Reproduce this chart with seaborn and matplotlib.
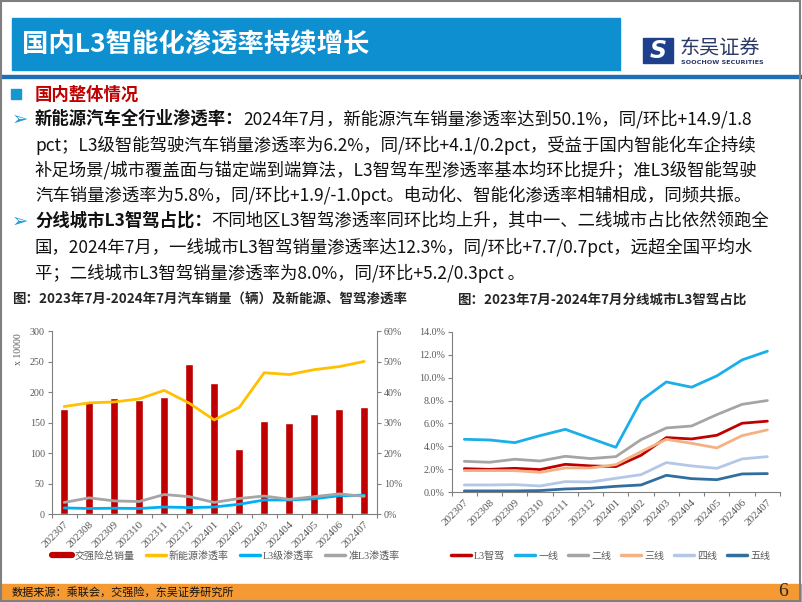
import matplotlib
matplotlib.use("Agg")
import matplotlib.pyplot as plt
from matplotlib.lines import Line2D
from matplotlib.patches import Rectangle
from matplotlib.ticker import FuncFormatter
import numpy as np
import pandas as pd
import seaborn as sns

# ---- data ----
months = ["202307", "202308", "202309", "202310", "202311", "202312", "202401",
          "202402", "202403", "202404", "202405", "202406", "202407"]

# left chart: sales in units of 10,000 vehicles, rates in %
sales = [172, 186, 190, 188, 192, 246, 215, 107, 153, 150, 165, 172, 176]
nev_rate = [35.3, 36.5, 36.8, 37.8, 40.6, 36.4, 30.9, 35.0, 46.4, 45.8, 47.4, 48.4, 50.1]
l3_rate = [2.0, 1.8, 1.9, 1.8, 2.3, 2.1, 2.3, 3.2, 4.6, 4.6, 5.0, 6.0, 6.2]
quasi_l3_rate = [3.8, 5.3, 4.3, 4.1, 6.4, 5.7, 3.8, 5.1, 5.9, 4.8, 5.7, 6.6, 5.8]
left_labels = ["交强险总销量", "新能源渗透率", "L3级渗透率", "准L3渗透率"]

# right chart: L3 share by city tier, in %
city_l3 = [2.06, 2.00, 2.09, 1.98, 2.44, 2.30, 2.24, 3.23, 4.77, 4.65, 4.97, 6.02, 6.20]
tier1 = [4.62, 4.56, 4.33, 4.94, 5.49, 4.70, 3.92, 8.00, 9.62, 9.16, 10.15, 11.54, 12.30]
tier2 = [2.70, 2.62, 2.88, 2.73, 3.14, 2.94, 3.11, 4.59, 5.61, 5.78, 6.77, 7.67, 8.00]
tier3 = [1.89, 1.89, 1.89, 1.74, 2.12, 2.12, 2.41, 3.55, 4.62, 4.27, 3.87, 4.94, 5.44]
tier4 = [0.64, 0.64, 0.67, 0.55, 0.93, 0.90, 1.22, 1.54, 2.59, 2.30, 2.09, 2.91, 3.11]
tier5 = [0.12, 0.12, 0.12, 0.15, 0.29, 0.35, 0.52, 0.64, 1.48, 1.19, 1.10, 1.60, 1.63]
tier_labels = ["L3智驾", "一线", "二线", "三线", "四线", "五线"]
tier_colors = ["#C00000", "#1AAFE8", "#A5A5A5", "#F4B183", "#B4C7E7", "#2F6E9E"]

sns.set_theme(style="ticks")
plt.rcParams["font.family"] = ["Liberation Serif", "Noto Sans CJK SC", "DejaVu Sans"]
SANS = ["Noto Sans CJK SC", "DejaVu Sans"]
GRAY = "#808080"
TXT = "#595959"

W, H = 802, 602
fig = plt.figure(figsize=(W / 100, H / 100), dpi=100)
fig.patch.set_facecolor("white")

# overlay in pixel coordinates for the slide decoration
bg = fig.add_axes([0, 0, 1, 1])
bg.set_xlim(0, W)
bg.set_ylim(H, 0)
bg.axis("off")

# header
bg.add_patch(Rectangle((12, 18), 608, 52, color="#0E8FD0"))
bg.text(22, 45, "国内L3智能化渗透率持续增长", color="white", fontsize=19,
        weight="bold", va="center", family=SANS)
bg.add_patch(Rectangle((0, 74.5), W, 3, color="#1F6FB5"))

# logo
bg.add_patch(Rectangle((643, 38), 30, 25, color="#1E3F8C"))
bg.text(658, 50.5, "S", color="white", fontsize=17, weight="bold", style="italic",
        ha="center", va="center", family=["DejaVu Sans"])
bg.text(680, 48, "东吴证券", color="#2B3A67", fontsize=14.5, va="center", family=SANS)
bg.text(681, 63, "SOOCHOW SECURITIES", color="#2B3A67", fontsize=4.6, weight="bold",
        va="center", family=["DejaVu Sans"])

# body text
BODY = 12.5
bg.add_patch(Rectangle((11, 89), 10, 10, color="#1796CF"))
bg.text(35, 95, "国内整体情况", color="#C00000", fontsize=BODY, weight="bold",
        va="center", family=SANS)


def bullet(y):
    bg.text(12, y, "➢", color="#1E9AD6", fontsize=14, va="center", family=["DejaVu Sans"])


def line(y, bold, rest):
    x = 35
    if bold:
        t = bg.text(x, y, bold, fontsize=BODY, weight="bold", va="center",
                    color="#111111", family=SANS)
        bg.annotate(rest, xy=(1, 0), xycoords=t, va="bottom", ha="left",
                    fontsize=BODY, color="#111111", family=SANS)
    else:
        bg.text(x, y, rest, fontsize=BODY, va="center", color="#111111", family=SANS)


bullet(119)
line(119, "新能源汽车全行业渗透率：", "2024年7月，新能源汽车销量渗透率达到50.1%，同/环比+14.9/1.8")
line(145, None, "pct；L3级智能驾驶汽车销量渗透率为6.2%，同/环比+4.1/0.2pct，受益于国内智能化车企持续")
line(170, None, "补足场景/城市覆盖面与锚定端到端算法，L3智驾车型渗透率基本均环比提升；准L3级智能驾驶")
line(195, None, "汽车销量渗透率为5.8%，同/环比+1.9/-1.0pct。电动化、智能化渗透率相辅相成，同频共振。")
bullet(221)
line(221, "分线城市L3智驾占比：", "不同地区L3智驾渗透率同环比均上升，其中一、二线城市占比依然领跑全")
line(247, None, "国，2024年7月，一线城市L3智驾销量渗透率达12.3%，同/环比+7.7/0.7pct，远超全国平均水")
line(273, None, "平；二线城市L3智驾销量渗透率为8.0%，同/环比+5.2/0.3pct 。")

# chart titles
bg.text(12, 300, "图：2023年7月-2024年7月汽车销量（辆）及新能源、智驾渗透率",
        fontsize=9.7, weight="bold", va="center", family=SANS)
bg.text(457, 300, "图：2023年7月-2024年7月分线城市L3智驾占比",
        fontsize=9.7, weight="bold", va="center", family=SANS)

# footer
bg.add_patch(Rectangle((0, 584), W, 18, color="#F59A32"))
bg.text(12, 592.5, "数据来源：乘联会，交强险，东吴证券研究所", fontsize=8, va="center",
        family=SANS, color="#111111")
bg.text(778, 592, "6", fontsize=14, va="center", family=["Liberation Serif"])
bg.add_patch(Rectangle((0.8, 0.8), W - 2.6, H - 2, fill=False, edgecolor="#7F7F7F", lw=1.5))

x = np.arange(len(months))


def style_xaxis(ax):
    ax.set_xlim(-0.5, len(months) - 0.5)
    ax.set_xticks(x)
    ax.set_xticklabels(months, rotation=45, ha="right", rotation_mode="anchor",
                       fontsize=8, color=TXT)
    ax.set_xticks(np.arange(-0.5, len(months), 1), minor=True)
    ax.tick_params(axis="x", which="major", length=0, pad=4)
    ax.tick_params(axis="x", which="minor", length=3, color=GRAY, width=0.8)
    ax.set_xlabel("")


# ---- left chart ----
ax1 = fig.add_axes([51.7 / W, 1 - 514 / H, 325 / W, 182.7 / H])
df_left = pd.DataFrame({"month": months, "sales": sales})
sns.barplot(data=df_left, x="month", y="sales", color="#C00000", saturation=1,
            width=0.33, ax=ax1)
ax1.set_ylim(0, 300)
ax1.set_yticks(np.arange(0, 301, 50))
ax1.tick_params(axis="y", length=3, color=GRAY, width=0.8, labelsize=7.2,
                labelcolor=TXT, pad=2)
style_xaxis(ax1)
ax1.set_ylabel("x 10000", fontsize=7, color=TXT)
ax1.yaxis.set_label_coords(-0.088, 0.9)
for s in ["top", "right"]:
    ax1.spines[s].set_visible(False)
for s in ["left", "bottom"]:
    ax1.spines[s].set_color(GRAY)
    ax1.spines[s].set_linewidth(0.8)

ax2 = ax1.twinx()
for vals, col in [(nev_rate, "#FFC000"), (l3_rate, "#00B0F0"), (quasi_l3_rate, "#A5A5A5")]:
    sns.lineplot(x=x, y=vals, color=col, lw=2, ax=ax2, legend=False)
ax2.set_ylim(0, 60)
ax2.set_yticks(np.arange(0, 61, 10))
ax2.yaxis.set_major_formatter(FuncFormatter(lambda v, p: f"{v:.0f}%"))
ax2.tick_params(axis="y", length=3, color=GRAY, width=0.8, labelsize=7.2,
                labelcolor=TXT, pad=2)
ax2.set_ylabel("")
for s in ["top", "left", "bottom"]:
    ax2.spines[s].set_visible(False)
ax2.spines["right"].set_color(GRAY)
ax2.spines["right"].set_linewidth(0.8)

left_handles = [Line2D([], [], color="#C00000", lw=4.5),
                Line2D([], [], color="#FFC000", lw=2.5),
                Line2D([], [], color="#00B0F0", lw=2.5),
                Line2D([], [], color="#A5A5A5", lw=2.5)]
fig.legend(left_handles, left_labels, loc="center left", bbox_to_anchor=(44 / W, 1 - 556 / H),
           ncol=4, frameon=False, fontsize=7.2, handlelength=2.0, handletextpad=0.3,
           columnspacing=1.1, labelcolor=TXT, borderpad=0.3)

# ---- right chart ----
ax3 = fig.add_axes([451.7 / W, 1 - 492.3 / H, 328.3 / W, 160.6 / H])
df_right = pd.DataFrame({"x": np.tile(x, 6),
                         "value": np.concatenate([city_l3, tier1, tier2, tier3, tier4, tier5]),
                         "tier": np.repeat(tier_labels, len(months))})
sns.lineplot(data=df_right, x="x", y="value", hue="tier", hue_order=tier_labels,
             palette=tier_colors, lw=2, ax=ax3, legend=False)
ax3.set_ylim(0, 14)
ax3.set_yticks(np.arange(0, 14.1, 2))
ax3.yaxis.set_major_formatter(FuncFormatter(lambda v, p: f"{v:.1f}%"))
ax3.tick_params(axis="y", length=3, color=GRAY, width=0.8, labelsize=7.2,
                labelcolor=TXT, pad=2)
style_xaxis(ax3)
ax3.set_ylabel("")
for s in ["top", "right"]:
    ax3.spines[s].set_visible(False)
for s in ["left", "bottom"]:
    ax3.spines[s].set_color(GRAY)
    ax3.spines[s].set_linewidth(0.8)

right_handles = [Line2D([], [], color=c, lw=2.5) for c in tier_colors]
fig.legend(right_handles, tier_labels, loc="center left", bbox_to_anchor=(443 / W, 1 - 556 / H),
           ncol=6, frameon=False, fontsize=7.2, handlelength=2.0, handletextpad=0.3,
           columnspacing=1.0, labelcolor=TXT, borderpad=0.3)

fig.savefig("out.png", dpi=100)
